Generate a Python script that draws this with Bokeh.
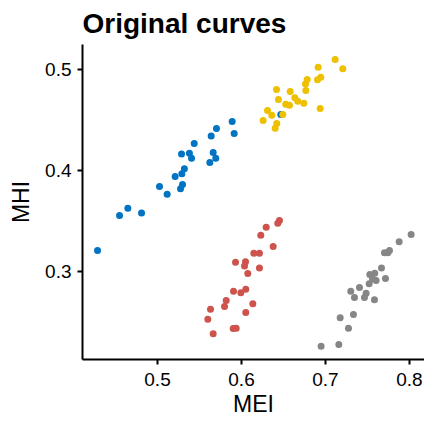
from bokeh.plotting import figure
from bokeh.models import FixedTicker, Range1d
from bokeh.embed import file_html
from bokeh.resources import INLINE

# ---- data ----
blue_mei = [0.4286, 0.4548, 0.4647, 0.4810, 0.5024, 0.5115, 0.5210, 0.5290, 0.5320, 0.5298,
            0.5274, 0.5286, 0.5380, 0.5405, 0.5437, 0.5623, 0.5663, 0.5694, 0.5639, 0.5702,
            0.5889, 0.5913, 0.6468]
blue_mhi = [0.3208, 0.3554, 0.3627, 0.3580, 0.3842, 0.3765, 0.3940, 0.3967, 0.4017, 0.3861,
            0.3819, 0.4165, 0.4172, 0.4122, 0.4267, 0.4079, 0.4178, 0.4122, 0.4343, 0.4416,
            0.4485, 0.4366, 0.4554]

yellow_mei = [0.7115, 0.7206, 0.6913, 0.6944, 0.6905, 0.6782, 0.6762, 0.6766, 0.6580, 0.6417,
              0.6440, 0.6635, 0.6670, 0.6742, 0.6527, 0.6571, 0.6937, 0.6310, 0.6361, 0.6492,
              0.6258, 0.6420, 0.6401]
yellow_mhi = [0.5099, 0.5007, 0.5023, 0.4924, 0.4898, 0.4901, 0.4858, 0.4792, 0.4782, 0.4802,
              0.4703, 0.4720, 0.4686, 0.4667, 0.4657, 0.4647, 0.4614, 0.4594, 0.4548, 0.4554,
              0.4495, 0.4465, 0.4419]

red_mei = [0.6452, 0.6432, 0.6294, 0.6230, 0.6377, 0.6147, 0.6214, 0.5929, 0.6048, 0.6036,
           0.6214, 0.6075, 0.6051, 0.5992, 0.5905, 0.5818, 0.5798, 0.6135, 0.5631, 0.5599,
           0.6051, 0.5901, 0.5937, 0.5663]
red_mhi = [0.3505, 0.3478, 0.3439, 0.3359, 0.3248, 0.3181, 0.3181, 0.3092, 0.3096, 0.3056,
           0.3036, 0.2980, 0.2825, 0.2789, 0.2805, 0.2713, 0.2653, 0.2680, 0.2627, 0.2528,
           0.2594, 0.2436, 0.2439, 0.2383]

gray_mei = [0.8020, 0.7877, 0.7762, 0.7702, 0.7742, 0.7667, 0.7528, 0.7587, 0.7560, 0.7603,
            0.7714, 0.7520, 0.7405, 0.7301, 0.7484, 0.7345, 0.7464, 0.7583, 0.7333, 0.7175,
            0.7274, 0.7159, 0.6948]
gray_mhi = [0.3366, 0.3294, 0.3208, 0.3185, 0.3185, 0.3036, 0.2970, 0.2983, 0.2927, 0.2911,
            0.2930, 0.2878, 0.2842, 0.2805, 0.2786, 0.2743, 0.2743, 0.2720, 0.2574, 0.2542,
            0.2439, 0.2277, 0.2260]

x_ticks = [0.5, 0.6, 0.7, 0.8]
y_ticks = [0.3, 0.4, 0.5]

series = [
    (blue_mei, blue_mhi, "#0073C2"),
    (yellow_mei, yellow_mhi, "#EFC000"),
    (red_mei, red_mhi, "#CD534C"),
    (gray_mei, gray_mhi, "#868686"),
]

FONT = "Liberation Sans"

p = figure(width=424, height=422, output_backend="svg", toolbar_location=None,
           x_range=Range1d(0.4107, 0.8179), y_range=Range1d(0.2129, 0.5248),
           min_border_left=82, min_border_right=0, min_border_top=44, min_border_bottom=63,
           title="Original curves")

for xs, ys, col in series:
    p.scatter(xs, ys, size=7, fill_color=col, line_color=col, line_width=0)

p.title.text_font = FONT
p.title.text_font_size = "28px"
p.title.text_font_style = "bold"
p.title.text_color = "black"
p.title.align = "left"
p.title.vertical_align = "top"
p.title.standoff = 8

p.xgrid.visible = False
p.ygrid.visible = False
p.outline_line_color = None
p.background_fill_color = "white"
p.border_fill_color = "white"

p.xaxis.ticker = FixedTicker(ticks=x_ticks)
p.yaxis.ticker = FixedTicker(ticks=y_ticks)
p.xaxis.axis_label = "MEI"
p.yaxis.axis_label = "MHI"

for ax in (p.xaxis[0], p.yaxis[0]):
    ax.axis_line_width = 2
    ax.axis_line_color = "black"
    ax.major_tick_line_width = 2
    ax.major_tick_line_color = "black"
    ax.major_tick_in = 0
    ax.major_tick_out = 5
    ax.minor_tick_line_color = None
    ax.major_label_text_font = FONT
    ax.major_label_text_font_size = "19px"
    ax.major_label_text_color = "black"
    ax.axis_label_text_font = FONT
    ax.axis_label_text_font_size = "23px"
    ax.axis_label_text_font_style = "normal"
    ax.axis_label_text_color = "black"

p.xaxis.major_label_standoff = 8
p.xaxis.axis_label_standoff = 2
p.yaxis.major_label_standoff = 6
p.yaxis.axis_label_standoff = 8

open("out.html", "w").write(file_html(p, INLINE))
